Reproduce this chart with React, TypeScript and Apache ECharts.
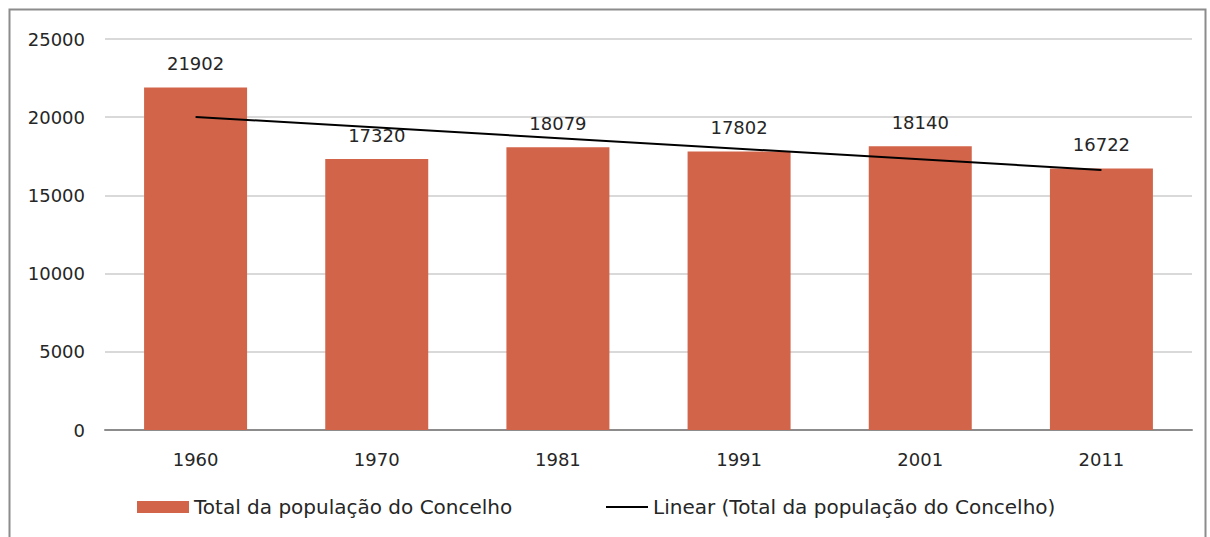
import React, { useEffect, useRef } from "react";
import * as echarts from "echarts";

const categories = ["1960", "1970", "1981", "1991", "2001", "2011"];
const population = [21902, 17320, 18079, 17802, 18140, 16722];
// trend line endpoints (Excel linear trendline)
const trend = [20020, null, null, null, null, 16630];
const yTicks = { min: 0, max: 25000, interval: 5000 };

const barName = "Total da população do Concelho";
const lineName = "Linear (Total da população do Concelho)";
const FONT = "DejaVu Sans";

export default function App() {
  const ref = useRef<HTMLDivElement>(null);
  useEffect(() => {
    document.body.style.margin = "0";
    const chart = echarts.init(ref.current!, undefined, { renderer: "svg" });
    chart.setOption({
      animation: false,
      backgroundColor: "#ffffff",
      textStyle: { fontFamily: FONT, color: "#262626" },
      graphic: [
        {
          type: "rect",
          shape: { x: 9.5, y: 9.5, width: 1196, height: 540 },
          style: { fill: "none", stroke: "#8c8c8c", lineWidth: 2 },
          silent: true,
        },
      ],
      grid: { left: 105, right: 18, top: 39, bottom: 107, containLabel: false },
      legend: [
        {
          data: [{ name: barName, icon: "rect" }],
          left: 137,
          top: 497,
          padding: 0,
          itemWidth: 52,
          itemHeight: 12,
          textStyle: { fontFamily: FONT, fontSize: 20, color: "#262626" },
        },
        {
          data: [{ name: lineName, icon: "rect" }],
          left: 606,
          top: 497,
          padding: 0,
          itemWidth: 42,
          itemHeight: 2,
          textStyle: { fontFamily: FONT, fontSize: 20, color: "#262626" },
        },
      ],
      xAxis: {
        type: "category",
        data: categories,
        axisLine: { lineStyle: { color: "#8c8c8c", width: 2 } },
        axisTick: { show: false },
        axisLabel: { fontFamily: FONT, fontSize: 18, color: "#262626", margin: 20 },
      },
      yAxis: {
        type: "value",
        min: yTicks.min,
        max: yTicks.max,
        interval: yTicks.interval,
        axisLine: { show: false },
        axisTick: { show: false },
        splitLine: { lineStyle: { color: "#d9d9d9", width: 2 } },
        axisLabel: {
          fontFamily: FONT,
          fontSize: 18,
          color: "#262626",
          margin: 20,
          formatter: (v: number) => String(v),
        },
      },
      series: [
        {
          name: barName,
          type: "bar",
          data: population,
          barWidth: 103,
          itemStyle: { color: "#D2644A" },
          label: {
            show: true,
            position: "top",
            distance: 15,
            fontFamily: FONT,
            fontSize: 18,
            color: "#262626",
          },
        },
        {
          name: lineName,
          type: "line",
          data: trend,
          connectNulls: true,
          symbol: "none",
          lineStyle: { color: "#000000", width: 2 },
          itemStyle: { color: "#000000" },
          z: 5,
        },
      ],
    });
    return () => chart.dispose();
  }, []);
  return <div ref={ref} style={{ width: 1210, height: 537 }} />;
}
